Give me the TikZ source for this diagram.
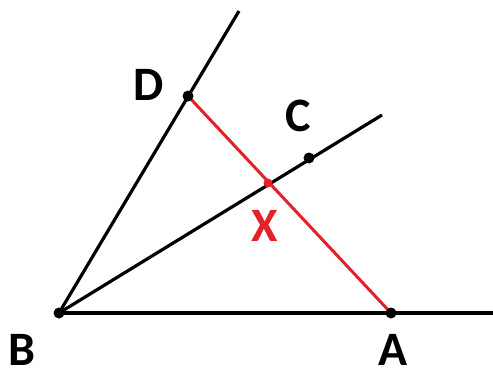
\documentclass[tikz,border=0pt]{standalone}
\usepackage{fontspec}
\setmainfont{Carlito}
\definecolor{myred}{RGB}{228,32,40}
\begin{document}
\begin{tikzpicture}[x=1pt,y=-1pt,
  ln/.style={line width=3.2pt,black},
  rl/.style={line width=3pt,myred},
  dotb/.style={circle,fill=black,inner sep=0pt,minimum size=11pt},
  dotr/.style={circle,fill=myred,inner sep=0pt,minimum size=9pt},
  lbl/.style={font=\fontsize{48}{48}\selectfont\bfseries,inner sep=0pt}]
\useasboundingbox (0,0) rectangle (493,373);
\coordinate (B) at (59,313);
\coordinate (A) at (391,313);
\coordinate (D) at (188,96);
\coordinate (C) at (309,158);
\coordinate (X) at (268,183);
\coordinate (Dend) at (239,11);
\coordinate (Cend) at (382,115);
\coordinate (Aend) at (493,313);
\draw[ln] (B) -- (Aend);
\draw[ln] (B) -- (Dend);
\draw[ln] (B) -- (Cend);
\draw[rl] (D) -- (A);
\node[dotb] (nB) at (B) {};
\node[dotb] (nA) at (A) {};
\node[dotb] (nD) at (D) {};
\node[dotb] (nC) at (C) {};
\node[dotr] (nX) at (X) {};
\node[lbl] (lD) at (149,85) {D};
\node[lbl] (lC) at (298,116) {C};
\node[lbl,text=myred] (lX) at (265,226) {X};
\node[lbl] (lB) at (22,350) {B};
\node[lbl] (lA) at (393,350) {A};
\end{tikzpicture}
\end{document}
